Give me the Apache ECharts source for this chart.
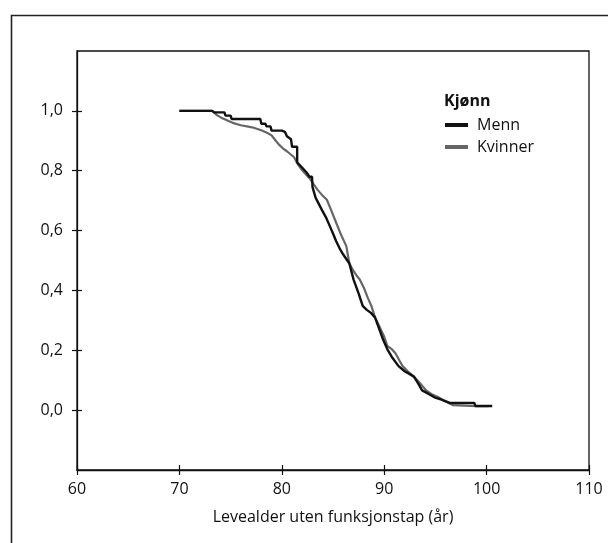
<!DOCTYPE html>
<html>
<head>
<meta charset="utf-8">
<script src="https://cdn.jsdelivr.net/npm/echarts@6/dist/echarts.min.js"></script>
<style>
html,body{margin:0;padding:0;background:#fff;}
#chart{width:608px;height:543px;}
</style>
</head>
<body>
<div id="chart"></div>
<script>
// Data
const xTicks = [60, 70, 80, 90, 100, 110];
const yTicks = [0, 0.2, 0.4, 0.6, 0.8, 1.0];
const legendTitle = 'Kjønn';
const seriesNames = ['Menn', 'Kvinner'];
const xTitle = 'Levealder uten funksjonstap (år)';

const mennAge = [70.0, 73.2, 73.4, 74.4, 74.5, 75.0, 75.1, 77.9, 78.0, 78.4, 78.5, 78.9, 79.0, 80.0, 80.3, 80.5, 80.9, 81.0, 81.5, 81.5, 82.0, 82.4, 82.7, 82.95, 83.0, 83.3, 83.6, 83.9, 84.3, 84.7, 85.0, 85.3, 85.7, 86.0, 86.3, 86.6, 87.0, 87.5, 87.9, 88.3, 88.7, 89.1, 89.6, 89.9, 90.3, 90.8, 91.4, 92.0, 92.9, 93.3, 93.7, 94.3, 94.9, 95.6, 96.4, 96.6, 98.8, 98.9, 100.55];
const mennSurv = [1.0, 1.0, 0.995, 0.995, 0.984, 0.984, 0.973, 0.973, 0.957, 0.957, 0.948, 0.948, 0.934, 0.934, 0.93, 0.915, 0.905, 0.88, 0.88, 0.828, 0.81, 0.795, 0.78, 0.78, 0.745, 0.71, 0.69, 0.67, 0.645, 0.614, 0.59, 0.565, 0.537, 0.52, 0.505, 0.49, 0.437, 0.39, 0.348, 0.335, 0.325, 0.31, 0.263, 0.235, 0.204, 0.175, 0.147, 0.13, 0.112, 0.09, 0.066, 0.055, 0.043, 0.035, 0.024, 0.024, 0.024, 0.014, 0.014];

const kvinnerAge = [70.0, 73.2, 73.7, 74.2, 75.2, 76.0, 77.1, 78.0, 78.6, 79.0, 79.3, 79.7, 80.1, 80.5, 81.2, 81.5, 81.9, 82.3, 82.7, 83.1, 83.5, 83.9, 84.4, 84.8, 85.3, 85.8, 86.3, 86.6, 87.0, 87.3, 87.6, 88.0, 88.4, 88.75, 89.1, 89.6, 90.0, 90.3, 90.7, 91.1, 91.5, 91.8, 92.3, 92.9, 93.5, 94.1, 94.7, 95.3, 95.8, 96.4, 96.7, 99.0, 100.2];
const kvinnerSurv = [1.0, 1.0, 0.985, 0.975, 0.96, 0.952, 0.945, 0.935, 0.926, 0.918, 0.905, 0.888, 0.875, 0.865, 0.845, 0.825, 0.805, 0.79, 0.775, 0.755, 0.736, 0.72, 0.703, 0.67, 0.627, 0.585, 0.548, 0.49, 0.465, 0.45, 0.437, 0.41, 0.375, 0.348, 0.31, 0.275, 0.245, 0.215, 0.205, 0.19, 0.165, 0.147, 0.13, 0.112, 0.09, 0.066, 0.052, 0.043, 0.032, 0.022, 0.017, 0.013, 0.013];

const zip = (a, b) => a.map((v, i) => [v, b[i]]);
const FONT = '"Open Sans", "Noto Sans", sans-serif';
const FS = 16;
const fmt = v => v.toFixed(1).replace('.', ',');

const chart = echarts.init(document.getElementById('chart'), null, {renderer: 'canvas'});
chart.setOption({
  backgroundColor: '#fff',
  animation: false,
  textStyle: {fontFamily: FONT, color: '#111'},
  grid: {left: 77, right: 19, top: 51, bottom: 73, show: true, borderColor: '#111', borderWidth: 1.3, backgroundColor: 'transparent'},
  title: {
    text: legendTitle, left: 439, top: 88,
    textStyle: {fontFamily: FONT, fontSize: FS, fontWeight: 'bold', color: '#111'}
  },
  legend: {
    orient: 'vertical', left: 440, top: 111,
    itemWidth: 23, itemHeight: 4, itemGap: 4, icon: 'rect',
    textStyle: {fontFamily: FONT, fontSize: FS, color: '#111', padding: [0, 0, 0, 4], lineHeight: 18},
    data: [
      {name: seriesNames[0], itemStyle: {color: '#111'}},
      {name: seriesNames[1], itemStyle: {color: '#666'}}
    ]
  },
  xAxis: [{
    type: 'value', min: 60, max: 110, interval: 10,
    name: xTitle, nameLocation: 'middle', nameGap: 39,
    nameTextStyle: {fontFamily: FONT, fontSize: FS, color: '#111'},
    axisLine: {show: true, onZero: false, lineStyle: {color: '#111', width: 1.3}},
    axisTick: {show: true, length: 5, customValues: xTicks, lineStyle: {color: '#111', width: 1.2}},
    axisLabel: {fontFamily: FONT, fontSize: FS, color: '#111', margin: 11, customValues: xTicks, formatter: v => String(v)},
    splitLine: {show: false}
  }, {
    type: 'value', min: 60, max: 110, interval: 10, position: 'bottom',
    axisLine: {show: false, onZero: false}, axisLabel: {show: false}, splitLine: {show: false},
    axisTick: {show: true, inside: true, length: 5, customValues: xTicks, lineStyle: {color: '#111', width: 1.2}}
  }],
  yAxis: [{
    type: 'value', min: -0.2, max: 1.2, interval: 0.2,
    axisLine: {show: true, onZero: false, lineStyle: {color: '#111', width: 1.3}},
    axisTick: {show: true, length: 5, customValues: yTicks, lineStyle: {color: '#111', width: 1.2}},
    axisLabel: {fontFamily: FONT, fontSize: FS, color: '#111', margin: 14, customValues: yTicks, formatter: v => fmt(v)},
    splitLine: {show: false}
  }, {
    type: 'value', min: -0.2, max: 1.2, interval: 0.2, position: 'left',
    axisLine: {show: false, onZero: false}, axisLabel: {show: false}, splitLine: {show: false},
    axisTick: {show: true, inside: true, length: 5, customValues: yTicks, lineStyle: {color: '#111', width: 1.2}}
  }],
  series: [{
    name: seriesNames[0], type: 'line', showSymbol: false, symbol: 'none',
    data: zip(mennAge, mennSurv),
    lineStyle: {color: '#111', width: 2.4}, itemStyle: {color: '#111'}, z: 3
  }, {
    name: seriesNames[1], type: 'line', showSymbol: false, symbol: 'none',
    data: zip(kvinnerAge, kvinnerSurv),
    lineStyle: {color: '#666', width: 2.2}, itemStyle: {color: '#666'}, z: 2
  }],
  graphic: [{
    type: 'rect', left: 9, top: 13, silent: true, z: 100,
    shape: {width: 700, height: 700},
    style: {fill: 'none', stroke: '#222', lineWidth: 1.6}
  }]
});
</script>
</body>
</html>
